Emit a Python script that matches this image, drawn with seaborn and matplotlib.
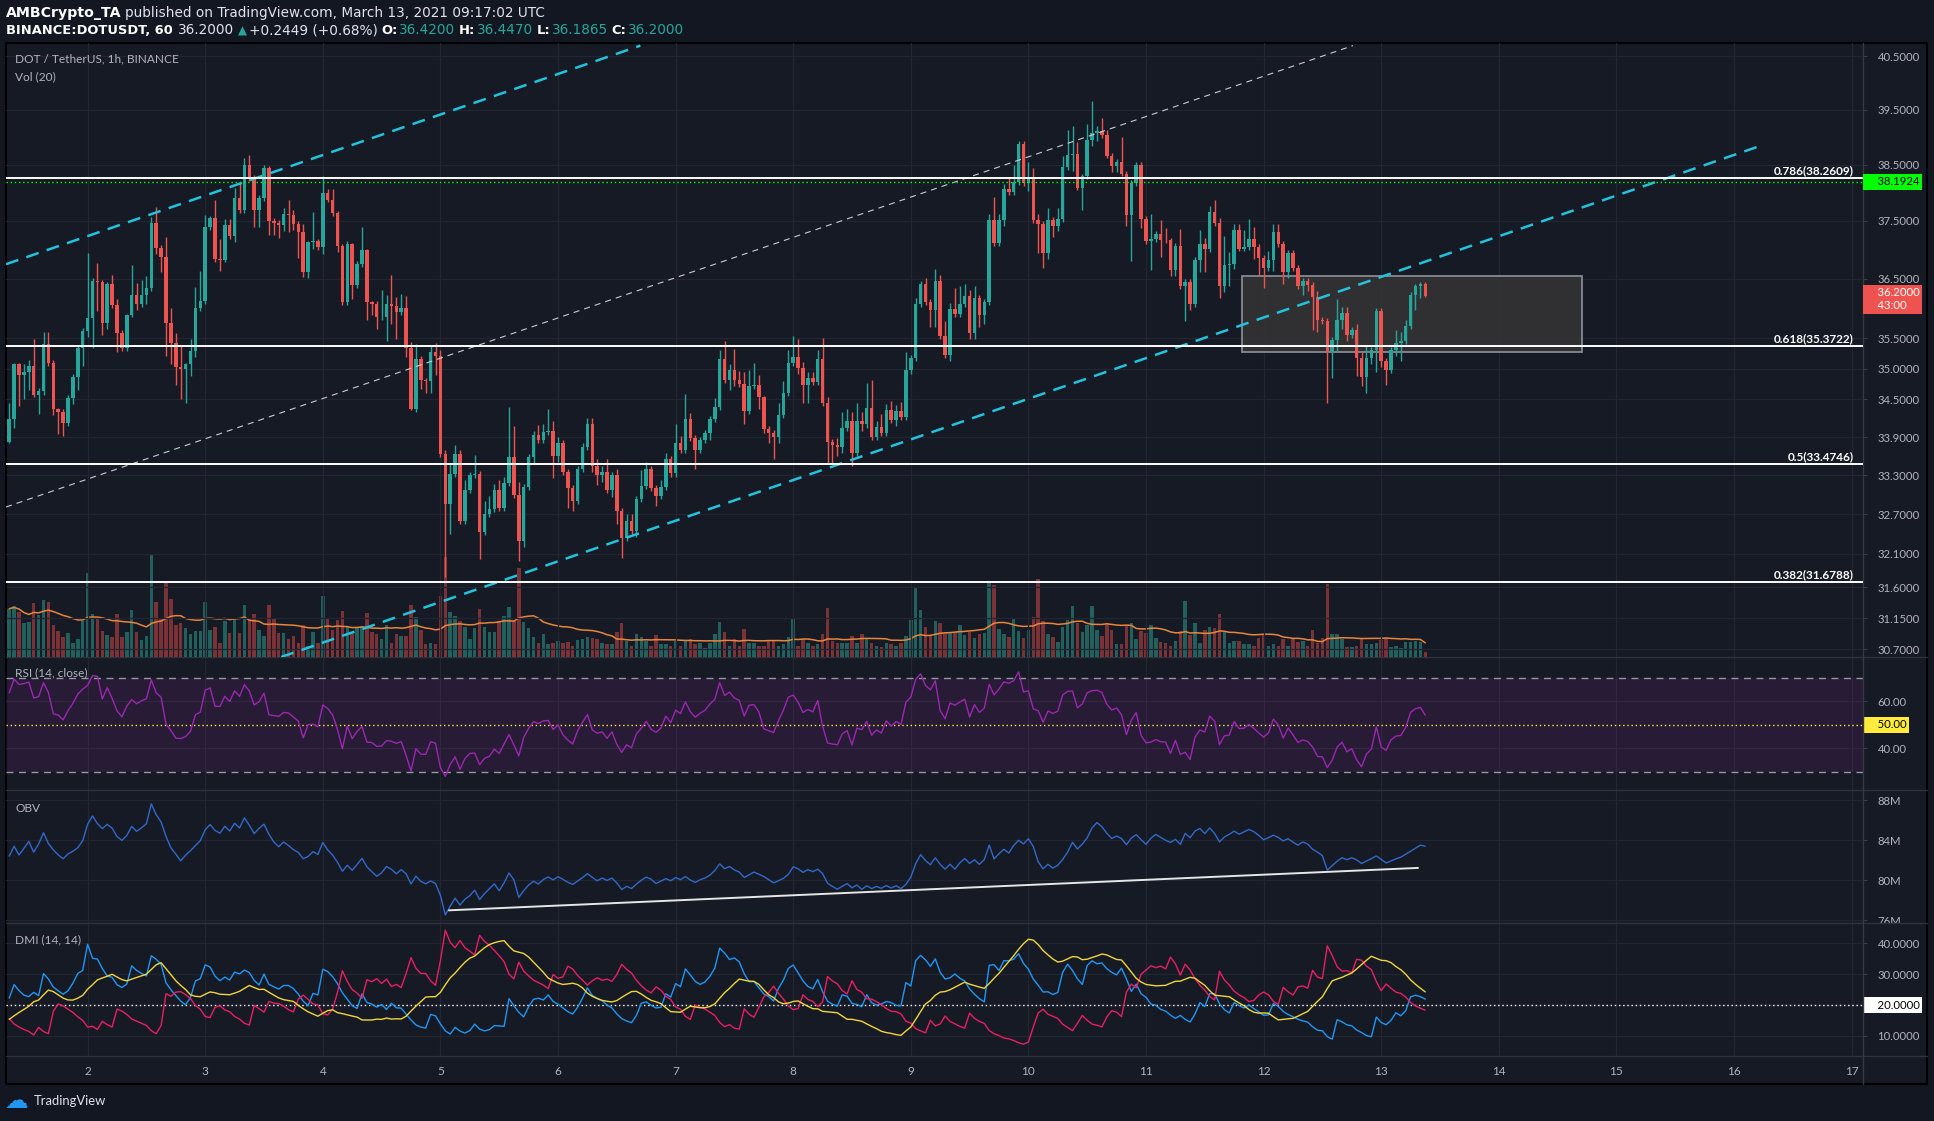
import numpy as np
import pandas as pd
import matplotlib
matplotlib.use("Agg")
import matplotlib.pyplot as plt
import seaborn as sns
from matplotlib.patches import Rectangle
from matplotlib.lines import Line2D

# ---- data (DOT/USDT 1h, Mar 1 08:00 -> Mar 13 09:00) ----
first_open = 33.82
closes = [
    34.19, 35.07, 34.90, 34.95, 35.04, 34.57, 34.63, 35.40, 35.10, 34.35,
    34.30, 34.12, 34.52, 34.86, 35.34, 35.62, 35.84, 36.47, 36.45, 35.76,
    36.42, 36.05, 35.58, 35.34, 35.88, 36.23, 36.08, 36.23, 36.34, 37.47,
    37.03, 36.87, 35.75, 35.43, 35.03, 35.00, 35.08, 35.29, 36.01, 36.13,
    37.40, 37.56, 36.84, 36.83, 37.43, 37.23, 37.90, 37.69, 38.49, 38.26,
    37.70, 37.90, 38.43, 37.50, 37.46, 37.43, 37.62, 37.60, 37.45, 37.30,
    36.61, 37.13, 37.15, 37.05, 38.00, 37.87, 37.64, 37.06, 36.10, 37.10,
    36.40, 36.75, 37.00, 36.10, 36.08, 35.85, 35.86, 36.07, 36.04, 35.94,
    36.00, 35.34, 34.35, 35.16, 34.82, 34.80, 35.27, 35.20, 33.64, 32.85,
    33.32, 33.64, 32.60, 33.07, 33.30, 33.32, 32.43, 32.70, 32.78, 33.07,
    32.80, 33.18, 33.58, 33.00, 32.30, 33.12, 33.58, 33.94, 33.85, 33.98,
    34.00, 33.60, 33.80, 33.35, 33.10, 32.90, 33.40, 33.75, 34.10, 33.45,
    33.30, 33.35, 33.07, 33.30, 32.75, 32.34, 32.60, 32.45, 32.93, 33.13,
    33.40, 33.10, 32.98, 33.12, 33.55, 33.33, 33.81, 33.70, 34.19, 33.88,
    33.70, 33.85, 33.96, 34.19, 34.38, 35.16, 34.81, 34.97, 34.81, 34.75,
    34.31, 34.72, 34.74, 34.54, 34.02, 33.96, 33.90, 34.25, 34.60, 35.10,
    35.19, 35.01, 34.74, 34.84, 34.78, 35.16, 34.44, 33.82, 33.78, 33.75,
    34.05, 34.15, 33.65, 34.15, 34.10, 34.36, 33.90, 34.06, 33.96, 34.33,
    34.17, 34.31, 34.22, 34.97, 35.18, 36.07, 36.41, 36.10, 35.98, 36.47,
    35.53, 35.22, 35.99, 35.91, 36.07, 36.21, 35.59, 36.18, 35.89, 36.10,
    37.52, 37.12, 37.52, 38.06, 38.01, 38.19, 38.88, 38.17, 38.24, 37.52,
    37.45, 36.94, 37.52, 37.42, 37.53, 38.45, 38.68, 38.70, 38.09, 38.29,
    38.94, 39.07, 39.10, 39.03, 38.66, 38.47, 38.55, 38.34, 37.61, 38.17,
    38.50, 37.53, 37.15, 37.18, 37.27, 37.17, 37.16, 36.65, 37.06, 36.38,
    36.45, 36.07, 36.82, 37.10, 37.01, 37.66, 37.46, 36.37, 36.73, 36.76,
    37.34, 37.02, 37.04, 37.19, 37.04, 36.86, 36.69, 36.83, 37.30, 37.10,
    36.61, 36.95, 36.69, 36.38, 36.46, 36.40, 36.19, 35.80, 35.78, 35.29,
    35.47, 35.80, 35.93, 35.56, 35.64, 35.18, 34.86, 35.17, 35.30, 35.95,
    35.13, 34.98, 35.31, 35.43, 35.45, 35.70, 36.23, 36.37, 36.42, 36.20,
]
wick_up = [
    0.26, 0.03, 0.02, 0.12, 0.10, 0.45, 0.05, 0.20, 0.20, 0.05,
    0.02, 0.05, 0.05, 0.05, 0.05, 0.05, 1.10, 0.04, 0.30, 0.03,
    0.03, 0.15, 0.10, 0.05, 0.02, 0.50, 0.20, 0.25, 0.20, 0.10,
    0.28, 0.05, 0.35, 0.25, 0.15, 0.35, 0.02, 0.20, 0.35, 0.50,
    0.20, 0.03, 0.30, 0.35, 0.10, 0.10, 0.18, 0.28, 0.12, 0.18,
    0.05, 0.05, 0.06, 0.04, 0.05, 0.05, 0.10, 0.25, 0.10, 0.05,
    0.15, 0.02, 0.50, 0.03, 0.30, 0.06, 0.20, 0.03, 0.03, 0.05,
    0.02, 0.05, 0.40, 0.02, 0.03, 0.05, 0.45, 0.15, 0.50, 0.15,
    0.25, 0.20, 0.10, 0.25, 0.05, 0.02, 0.10, 0.15, 0.10, 0.05,
    0.15, 0.14, 0.05, 0.15, 0.05, 0.30, 0.05, 0.20, 0.20, 0.10,
    0.15, 0.10, 0.80, 0.50, 0.20, 0.05, 0.05, 0.05, 0.15, 0.12,
    0.35, 0.15, 0.10, 0.05, 0.05, 0.05, 0.05, 0.05, 0.10, 0.10,
    0.10, 0.10, 0.20, 0.05, 0.10, 0.05, 0.10, 0.10, 0.05, 0.25,
    0.10, 0.05, 0.05, 0.10, 0.10, 0.05, 0.30, 0.10, 0.40, 0.10,
    0.05, 0.05, 0.05, 0.05, 0.15, 0.15, 0.30, 0.10, 0.35, 0.15,
    0.20, 0.25, 0.35, 0.15, 0.02, 0.05, 0.05, 0.20, 0.20, 0.20,
    0.35, 0.30, 0.10, 0.10, 0.10, 0.15, 0.35, 0.10, 0.05, 0.10,
    0.25, 0.20, 0.15, 0.30, 0.15, 0.40, 0.45, 0.10, 0.20, 0.10,
    0.15, 0.10, 0.15, 0.30, 0.05, 0.10, 0.05, 0.10, 0.05, 0.20,
    0.10, 0.25, 0.10, 0.35, 0.30, 0.20, 0.10, 0.20, 0.05, 0.05,
    0.10, 0.40, 0.10, 0.10, 0.20, 0.30, 0.05, 0.05, 0.30, 0.20,
    0.10, 0.05, 0.20, 0.05, 0.20, 0.20, 0.45, 0.50, 0.20, 0.05,
    0.30, 0.60, 0.10, 0.25, 0.10, 0.05, 0.05, 0.45, 0.05, 0.05,
    0.05, 0.05, 0.05, 0.45, 0.05, 0.25, 0.20, 0.05, 0.05, 0.30,
    0.05, 0.05, 0.05, 0.25, 0.10, 0.10, 0.20, 0.10, 0.50, 0.20,
    0.10, 0.10, 0.30, 0.35, 0.20, 0.05, 0.05, 0.15, 0.15, 0.15,
    0.05, 0.05, 0.05, 0.05, 0.05, 0.05, 0.05, 0.10, 0.05, 0.05,
    0.05, 0.35, 0.10, 0.10, 0.05, 0.10, 0.10, 0.20, 0.05, 0.05,
    0.05, 0.05, 0.05, 0.20, 0.15, 0.10, 0.05, 0.05, 0.03, 0.03,
]
wick_dn = [
    0.02, 0.15, 0.50, 0.40, 0.30, 0.03, 0.30, 0.05, 0.05, 0.10,
    0.35, 0.20, 0.05, 0.10, 0.20, 0.30, 0.10, 0.50, 0.50, 0.20,
    0.10, 0.05, 0.30, 0.05, 0.05, 0.02, 0.10, 0.05, 0.15, 0.05,
    0.10, 0.25, 0.55, 0.35, 0.30, 0.50, 0.55, 0.20, 0.10, 0.05,
    0.05, 0.05, 0.05, 0.20, 0.05, 0.05, 0.10, 0.05, 0.05, 0.05,
    0.30, 0.30, 0.05, 0.25, 0.20, 0.22, 0.10, 0.30, 0.10, 0.45,
    0.08, 0.10, 0.12, 0.05, 0.12, 0.03, 0.05, 0.10, 0.05, 0.05,
    0.25, 0.05, 0.05, 0.30, 0.20, 0.20, 0.05, 0.40, 0.30, 0.45,
    0.05, 0.15, 0.02, 0.05, 0.15, 0.20, 0.20, 0.30, 0.05, 1.10,
    0.45, 0.05, 0.05, 0.05, 0.05, 0.05, 0.40, 0.05, 0.05, 0.05,
    0.05, 0.05, 0.05, 0.05, 0.30, 0.10, 0.05, 0.10, 0.05, 0.05,
    0.05, 0.35, 0.10, 0.05, 0.30, 0.15, 0.05, 0.05, 0.05, 0.10,
    0.15, 0.10, 0.05, 0.10, 0.20, 0.30, 0.05, 0.05, 0.10, 0.05,
    0.05, 0.05, 0.15, 0.05, 0.05, 0.05, 0.05, 0.05, 0.05, 0.05,
    0.30, 0.05, 0.05, 0.10, 0.05, 0.05, 0.05, 0.15, 0.10, 0.05,
    0.20, 0.05, 0.05, 0.20, 0.05, 0.15, 0.35, 0.10, 0.05, 0.05,
    0.05, 0.10, 0.30, 0.30, 0.05, 0.05, 0.05, 0.35, 0.30, 0.15,
    0.10, 0.05, 0.20, 0.05, 0.10, 0.05, 0.05, 0.05, 0.05, 0.05,
    0.05, 0.10, 0.05, 0.05, 0.05, 0.05, 0.05, 0.05, 0.30, 0.30,
    0.05, 0.05, 0.10, 0.05, 0.05, 0.05, 0.10, 0.10, 0.20, 0.15,
    0.05, 0.05, 0.05, 0.10, 0.05, 0.05, 0.05, 0.05, 0.15, 0.05,
    0.50, 0.25, 0.10, 0.20, 0.10, 0.05, 0.05, 0.30, 0.05, 0.40,
    0.05, 0.10, 0.15, 0.05, 0.05, 0.10, 0.10, 0.05, 0.20, 0.80,
    0.05, 0.15, 0.05, 0.50, 0.05, 0.30, 0.05, 0.10, 0.10, 0.05,
    0.60, 0.10, 0.05, 0.20, 0.40, 0.05, 0.05, 0.20, 0.10, 0.35,
    0.10, 0.05, 0.05, 0.05, 0.20, 0.30, 0.35, 0.05, 0.20, 0.05,
    0.20, 0.10, 0.05, 0.05, 0.15, 0.10, 0.55, 0.20, 0.05, 0.85,
    0.45, 0.20, 0.15, 0.10, 0.05, 0.30, 0.15, 0.25, 0.10, 0.35,
    0.10, 0.25, 0.05, 0.10, 0.30, 0.05, 0.05, 0.25, 0.20, 0.01,
]
# volume bar heights (1 unit = 7k DOT)
volume_units = [
    135, 142, 125, 95, 98, 152, 117, 160, 155, 90,
    72, 55, 68, 40, 50, 100, 235, 120, 110, 72,
    62, 55, 120, 55, 70, 130, 70, 48, 60, 285,
    155, 105, 207, 163, 90, 95, 80, 65, 72, 72,
    155, 75, 85, 40, 100, 67, 110, 68, 145, 105,
    120, 75, 60, 145, 110, 68, 68, 50, 60, 40,
    90, 32, 70, 40, 170, 105, 75, 103, 128, 85,
    70, 82, 88, 122, 70, 65, 50, 90, 40, 65,
    60, 60, 145, 112, 75, 35, 40, 35, 170, 280,
    125, 115, 100, 85, 50, 80, 135, 85, 70, 70,
    100, 115, 140, 100, 250, 97, 80, 55, 40, 65,
    35, 40, 45, 38, 42, 30, 48, 50, 55, 52,
    50, 40, 35, 35, 70, 95, 45, 30, 63, 55,
    45, 30, 62, 35, 35, 30, 45, 30, 45, 50,
    35, 40, 25, 40, 65, 97, 70, 32, 50, 30,
    78, 38, 40, 32, 32, 45, 45, 30, 35, 55,
    110, 30, 50, 40, 30, 35, 63, 138, 45, 40,
    40, 40, 60, 40, 63, 52, 40, 30, 27, 40,
    35, 32, 40, 60, 103, 193, 130, 85, 60, 100,
    95, 68, 70, 70, 90, 62, 70, 52, 65, 68,
    208, 200, 77, 63, 55, 110, 73, 52, 75, 113,
    217, 102, 65, 55, 42, 83, 103, 142, 95, 70,
    90, 143, 75, 60, 93, 75, 35, 35, 90, 95,
    50, 72, 68, 90, 52, 42, 40, 32, 45, 72,
    157, 62, 95, 38, 75, 83, 80, 120, 70, 38,
    45, 45, 35, 35, 32, 53, 63, 30, 35, 32,
    50, 32, 50, 42, 45, 30, 75, 40, 52, 205,
    63, 63, 50, 28, 28, 32, 50, 35, 35, 38,
    48, 52, 28, 30, 25, 42, 42, 45, 42, 15,
]
VOL_UNIT_DOT = 7000
OBV_START = 82.4e6
# indicator values at the first bar
DI_PLUS_START = 24.0
DI_MINUS_START = 16.8
ADX_START = 15.2

fib_levels = [("0.786", 38.2609), ("0.618", 35.3722), ("0.5", 33.4746), ("0.382", 31.6788)]
alert_level = 38.1924
last_price = 36.20
channel_upper = ([1.306, 6.70], [36.75, 40.70])
channel_lower = ([3.646, 16.253], [30.59, 38.86])
channel_mid = ([1.306, 12.76], [32.81, 40.70])
zone_x = [11.819, 14.705]
zone_y = [35.28, 36.54]
obv_trend = ([5.073, 13.313], [76.97e6, 81.22e6])

price_ticks = [30.7, 31.15, 31.6, 32.1, 32.7, 33.3, 33.9, 34.5, 35.0, 35.5, 36.5, 37.5, 38.5, 39.5, 40.5]
day_ticks = list(range(2, 18))

assert len(closes) == len(wick_up) == len(wick_dn) == len(volume_units) == 290

# ---- frame ----
closes_a = np.array(closes)
opens = np.r_[first_open, closes_a[:-1]]
highs = np.maximum(opens, closes_a) + np.array(wick_up)
lows = np.minimum(opens, closes_a) - np.array(wick_dn)
vols = np.array(volume_units, float) * VOL_UNIT_DOT
t = 1 + 8 / 24 + np.arange(len(closes)) / 24.0
up = closes_a >= opens

df = pd.DataFrame({"t": t, "open": opens, "high": highs, "low": lows, "close": closes_a, "vol": vols})


def rma(x, n=14, seed=None):
    x = np.asarray(x, float)
    out = np.empty_like(x)
    s = x[:n].mean() if seed is None else seed
    for k in range(len(x)):
        s += (x[k] - s) / n
        out[k] = s
    return out


chg = df["close"].values - df["open"].values
rsi = 100 - 100 / (1 + rma(np.clip(chg, 0, None)) / rma(np.clip(-chg, 0, None)))
df["rsi"] = rsi

obv = np.cumsum(np.sign(chg) * vols)
df["obv"] = OBV_START + obv - obv[0]

ph = np.r_[highs[0], highs[:-1]]
pl = np.r_[lows[0], lows[:-1]]
upm = highs - ph
dnm = pl - lows
pdm = np.where((upm > dnm) & (upm > 0), upm, 0.0)
mdm = np.where((dnm > upm) & (dnm > 0), dnm, 0.0)
tr = np.maximum.reduce([highs - lows, np.abs(highs - opens), np.abs(lows - opens)])
atr0 = tr[:14].mean()
atr = rma(tr, seed=atr0)
df["pdi"] = 100 * rma(pdm, seed=DI_PLUS_START / 100 * atr0) / atr
df["mdi"] = 100 * rma(mdm, seed=DI_MINUS_START / 100 * atr0) / atr
dx = 100 * np.abs(df["pdi"] - df["mdi"]) / (df["pdi"] + df["mdi"])
df["adx"] = rma(dx, seed=ADX_START)
df["vol_ma"] = df["vol"].rolling(20, min_periods=1).mean()

# ---- style ----
BG = "#131722"
PANE = "#161a25"
GRID = "#232632"
SEP = "#2e323d"
TXT = "#b2b5be"
GREEN = "#26a69a"
RED = "#ef5350"

sns.set_theme(style="dark", rc={"axes.facecolor": PANE, "figure.facecolor": BG, "grid.color": GRID})
plt.rcParams["font.family"] = ["Lato", "DejaVu Sans"]

W, H = 1934, 1121
fig = plt.figure(figsize=(W / 100, H / 100), dpi=100)
fig.patch.set_facecolor(BG)


def fx(px):
    return px / W


def fy(py):
    return 1 - py / H


fig.add_artist(Rectangle((fx(6), fy(1084)), fx(1921), (1084 - 43) / H, transform=fig.transFigure,
                         fc=PANE, ec="#000000", lw=1.5, zorder=0))

L, R = 6, 1863
ax = fig.add_axes([fx(L), fy(657), fx(R - L), (657 - 43) / H])
ax_vol = ax.twinx()
ax_rsi = fig.add_axes([fx(L), fy(790), fx(R - L), 133 / H], sharex=ax)
ax_obv = fig.add_axes([fx(L), fy(923), fx(R - L), 133 / H], sharex=ax)
ax_dmi = fig.add_axes([fx(L), fy(1056), fx(R - L), 133 / H], sharex=ax)

ax.set_zorder(3)
ax_vol.set_zorder(2)
for a in (ax, ax_vol, ax_rsi, ax_obv, ax_dmi):
    a.patch.set_visible(False)
    for s in a.spines.values():
        s.set_visible(False)

# volume overlay
vcol = np.where(up, "#21605d", "#7b3236")
ax_vol.bar(df["t"], df["vol"], width=0.72 / 24, color=vcol, linewidth=0)
sns.lineplot(x=df["t"], y=df["vol_ma"], ax=ax_vol, color="#e8853d", linewidth=1.1)
ax_vol.set_ylim(0, 1716 * VOL_UNIT_DOT)
ax_vol.set_yticks([])
ax_vol.set_ylabel("")

# candles
ccol = np.where(up, GREEN, RED)
ax.vlines(df["t"], df["low"], df["high"], colors=ccol, linewidth=1.0, zorder=4)
body_lo = np.minimum(opens, closes_a)
body_h = np.maximum(np.abs(closes_a - opens), 0.012)
ax.bar(df["t"], body_h, bottom=body_lo, width=0.7 / 24, color=ccol, linewidth=0, zorder=5)
ax.set_yscale("log")
ax.set_ylim(30.59, 40.75)

# zone box
ax.add_patch(Rectangle((zone_x[0], zone_y[0]), zone_x[1] - zone_x[0], zone_y[1] - zone_y[0],
                       fc="#333335", ec="#8f9299", lw=1.3, alpha=0.92, zorder=2))

# channel lines
ax.plot(*channel_upper, color="#22c3dd", lw=1.8, ls=(0, (5.2, 3.4)), zorder=6)
ax.plot(*channel_lower, color="#22c3dd", lw=1.8, ls=(0, (5.2, 3.4)), zorder=6)
ax.plot(*channel_mid, color="#c9ccd3", lw=0.8, ls=(0, (5.5, 4.5)), zorder=6)

# fib levels
for name, lvl in fib_levels:
    ax.axhline(lvl, color="white", lw=1.4, zorder=7)
    ax.annotate(f"{name}({lvl:.4f})", xy=(1, lvl), xycoords=("axes fraction", "data"),
                xytext=(-6.5, 1.5), textcoords="offset points", ha="right", va="bottom",
                color="white", fontsize=8.5, fontweight="bold", zorder=8)
ax.axhline(alert_level, color="#00ff00", lw=1.0, ls=(0, (1, 2)), zorder=7)

# price axis
ax.yaxis.tick_right()
ax.yaxis.set_major_locator(matplotlib.ticker.FixedLocator(price_ticks))
ax.yaxis.set_minor_locator(matplotlib.ticker.NullLocator())
ax.yaxis.set_major_formatter(matplotlib.ticker.FuncFormatter(lambda v, p: f"{v:.4f}"))

# RSI
ax_rsi.axhspan(30, 70, color="#9c27b0", alpha=0.13, lw=0, zorder=1)
ax_rsi.axhline(70, color="#9598a1", lw=1.0, ls=(0, (5, 4)), zorder=2)
ax_rsi.axhline(30, color="#9598a1", lw=1.0, ls=(0, (5, 4)), zorder=2)
ax_rsi.axhline(50, color="#ffeb3b", lw=1.0, ls=(0, (1, 2)), zorder=2)
sns.lineplot(x=df["t"], y=df["rsi"], ax=ax_rsi, color="#9c27b0", linewidth=1.0, zorder=3)
ax_rsi.set_ylim(22.3, 78.9)
ax_rsi.set_yticks([40, 60])
ax_rsi.yaxis.set_major_formatter(matplotlib.ticker.FuncFormatter(lambda v, p: f"{v:.2f}"))

# OBV
sns.lineplot(x=df["t"], y=df["obv"], ax=ax_obv, color="#3169c9", linewidth=1.0, zorder=3)
ax_obv.plot(*obv_trend, color="#e6e6e6", lw=1.4, zorder=4)
ax_obv.set_ylim(75.7e6, 89.03e6)
ax_obv.set_yticks([76e6, 80e6, 84e6, 88e6])
ax_obv.yaxis.set_major_formatter(matplotlib.ticker.FuncFormatter(lambda v, p: f"{v / 1e6:.0f}M"))

# DMI
ax_dmi.axhline(20, color="white", lw=1.0, ls=(0, (1, 2)), zorder=2)
sns.lineplot(x=df["t"], y=df["pdi"], ax=ax_dmi, color="#2196f3", linewidth=1.0, zorder=3)
sns.lineplot(x=df["t"], y=df["mdi"], ax=ax_dmi, color="#e91e63", linewidth=1.0, zorder=3)
sns.lineplot(x=df["t"], y=df["adx"], ax=ax_dmi, color="#f0d53c", linewidth=1.0, zorder=4)
ax_dmi.set_ylim(3.5, 46.6)
ax_dmi.set_yticks([10, 20, 30, 40])
ax_dmi.yaxis.set_major_formatter(matplotlib.ticker.FuncFormatter(lambda v, p: "" if v == 20 else f"{v:.4f}"))

for a in (ax, ax_rsi, ax_obv, ax_dmi):
    a.set_xlim(1.306, 17.097)
    a.set_xticks(day_ticks)
    a.grid(True, color=GRID, lw=0.9)
    a.set_axisbelow(True)
    a.yaxis.tick_right()
    a.tick_params(axis="y", length=3, width=0.8, color="#3a3e49", labelcolor=TXT, labelsize=8.2, pad=7.5)
    a.tick_params(axis="x", length=0, labelbottom=False)
    a.set_xlabel("")
    a.set_ylabel("")
ax_dmi.tick_params(axis="x", length=3, color="#3a3e49", labelbottom=True, labelcolor=TXT, labelsize=8.5, pad=4)
ax_dmi.set_xticklabels([str(d) for d in day_ticks])

clip_rect = matplotlib.transforms.TransformedBbox(
    matplotlib.transforms.Bbox.from_extents(0, fy(923), 1, fy(790)), fig.transFigure)
for tk in ax_obv.yaxis.get_major_ticks():
    tk.label2.set_clip_on(True)
    tk.label2.set_clip_box(clip_rect)


# boxed axis labels
def axis_box(a, y, text, fc, tc, dy=0, va="center"):
    a.annotate(text, xy=(1, y), xycoords=("axes fraction", "data"), xytext=(1.8, dy),
               textcoords="offset points", ha="left", va=va, color=tc, fontsize=8.2,
               bbox=dict(boxstyle="square,pad=0.22", fc=fc, ec="none"), annotation_clip=False, zorder=10)


axis_box(ax, alert_level, "    38.1924", "#00ff00", "#000000")
axis_box(ax, last_price, "    36.2000\n    43:00", RED, "white", dy=6.5, va="top")
axis_box(ax_rsi, 50, "    50.00", "#ffeb3b", "#000000")
axis_box(ax_dmi, 20, "    20.0000", "white", "#000000")

# separators and price axis line
for yy in (657, 790, 923, 1056):
    fig.add_artist(Line2D([fx(6), fx(1927)], [fy(yy), fy(yy)], color=SEP, lw=1.0, transform=fig.transFigure))
fig.add_artist(Line2D([fx(1863), fx(1863)], [fy(43), fy(1084)], color="#363a45", lw=1.0, transform=fig.transFigure))

# pane titles
for yy, s in ((59, "DOT / TetherUS, 1h, BINANCE"), (77, "Vol (20)"), (673, "RSI (14, close)"),
              (808, "OBV"), (940, "DMI (14, 14)")):
    fig.text(fx(15), fy(yy), s, color=TXT, fontsize=8.6, va="center", ha="left")

# header (narrow face, DejaVu for the arrow glyph)
HDR_FAMILY = ["Liberation Sans Narrow", "DejaVu Sans"]


def chain(prev, s, color, size, weight="normal", gap=0.0):
    return ax.annotate(s, xy=(1, 0), xycoords=prev, xytext=(gap, 0), textcoords="offset points",
                       ha="left", va="bottom", color=color, fontweight=weight, fontsize=size,
                       family=HDR_FAMILY, annotation_clip=False)


h1 = fig.text(fx(6), fy(13), "AMBCrypto_TA", color="white", fontweight="bold", va="center",
              fontsize=10.2, family=HDR_FAMILY)
chain(h1, "published on TradingView.com, March 13, 2021 09:17:02 UTC", "#e0e3eb", 9.8, gap=2.5)
h2 = fig.text(fx(6), fy(31), "BINANCE:DOTUSDT, 60", color="white", fontweight="bold", va="center",
              fontsize=9.4, family=HDR_FAMILY)
p = chain(h2, "36.2000", "#e0e3eb", 9.8, gap=3.6)
p = chain(p, "\u25b2", GREEN, 8.5, gap=2.7)
p = chain(p, "+0.2449 (+0.68%)", "#e0e3eb", 9.8, gap=1.8)
for k, v in (("O:", "36.4200"), ("H:", "36.4470"), ("L:", "36.1865"), ("C:", "36.2000")):
    p = chain(p, k, "white", 9.4, weight="bold", gap=2.7)
    p = chain(p, v, GREEN, 9.8, gap=0.9)

# watermark
fig.text(fx(5), fy(1101), "\u2601", color="#2196f3", fontsize=17, va="center", family=["DejaVu Sans"])
fig.text(fx(34), fy(1101), "TradingView", color="#e0e3eb", fontsize=9.4, va="center")

fig.savefig("out.png", dpi=100, facecolor=fig.get_facecolor())
